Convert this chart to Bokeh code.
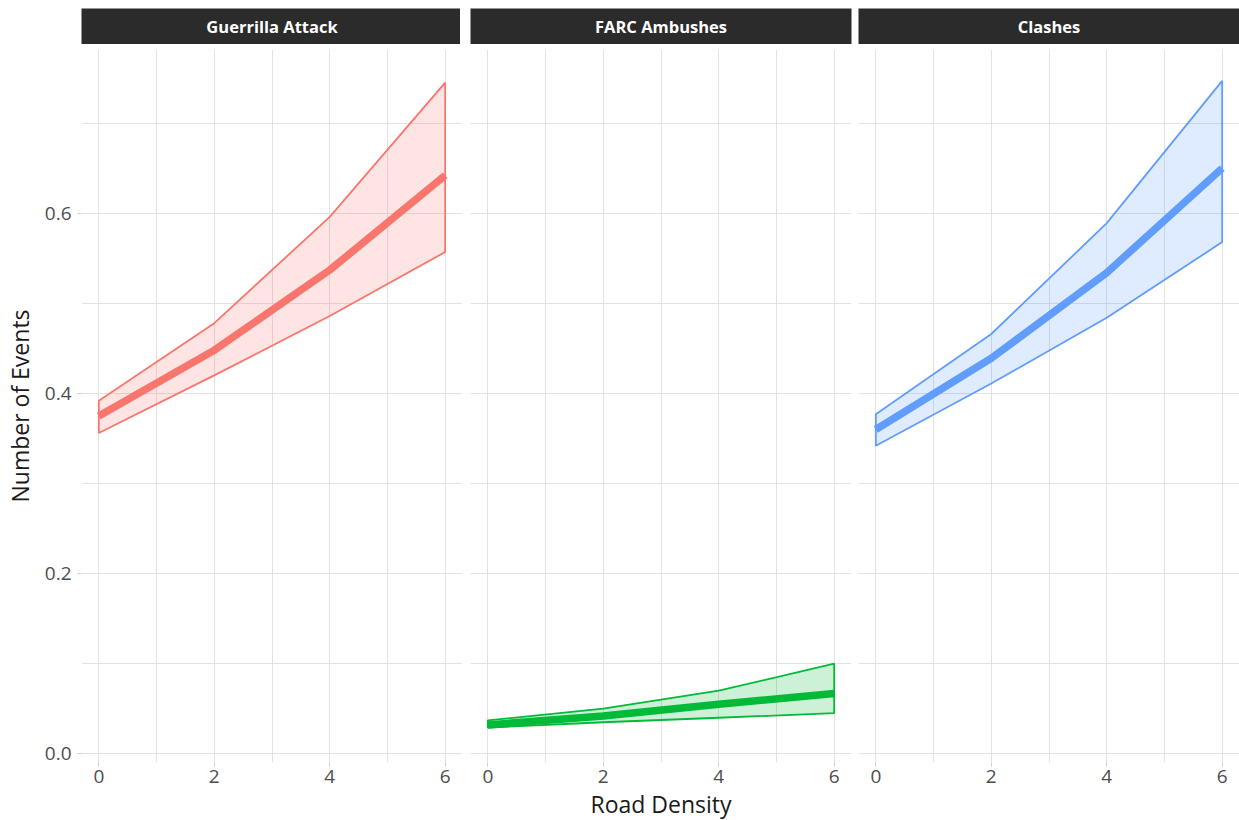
from bokeh.plotting import figure
from bokeh.layouts import row, column
from bokeh.models import Range1d, FixedTicker, CustomJSTickFormatter
from bokeh.embed import file_html
from bokeh.resources import INLINE
from bokeh.core.properties import value

# ---- data ----
road_density = [0, 2, 4, 6]
panels = ["Guerrilla Attack", "FARC Ambushes", "Clashes"]
colors = ["#F8766D", "#00BA38", "#619CFF"]

guerrilla_mean = [0.375, 0.448, 0.537, 0.642]
guerrilla_lower = [0.356, 0.420, 0.486, 0.557]
guerrilla_upper = [0.392, 0.478, 0.596, 0.745]

farc_mean = [0.032, 0.042, 0.055, 0.067]
farc_lower = [0.029, 0.035, 0.040, 0.045]
farc_upper = [0.037, 0.050, 0.070, 0.100]

clashes_mean = [0.360, 0.439, 0.534, 0.650]
clashes_lower = [0.342, 0.411, 0.484, 0.568]
clashes_upper = [0.377, 0.466, 0.589, 0.747]

x_ticks = [0, 2, 4, 6]
x_minor = [1, 3, 5]
y_ticks = [0.0, 0.2, 0.4, 0.6]
y_minor = [0.1, 0.3, 0.5, 0.7]

series = [
    (guerrilla_mean, guerrilla_lower, guerrilla_upper),
    (farc_mean, farc_lower, farc_upper),
    (clashes_mean, clashes_lower, clashes_upper),
]

FONT = "Open Sans"
GRID = "#e2e2e2"
borders = [(75, 4), (4, 4), (3, 0)]
FW = 381

cols = []
for i, (name, col, (mean, lo, up)) in enumerate(zip(panels, colors, series)):
    bl, br = borders[i]
    # facet strip
    s = figure(frame_width=FW, frame_height=36, x_range=Range1d(0, 1), y_range=Range1d(0, 1),
               output_backend="svg", toolbar_location=None,
               min_border_left=bl, min_border_right=br, min_border_top=8, min_border_bottom=0,
               background_fill_color="#2b2b2b", border_fill_color="white", outline_line_color=None)
    s.axis.visible = False
    s.grid.visible = False
    s.text(x=[0.5], y=[0.5], text=[name], text_align="center", text_baseline="middle",
           text_color="white", text_font=value(FONT), text_font_style="bold", text_font_size="16.5px")

    # panel
    p = figure(frame_width=FW, frame_height=713,
               x_range=Range1d(-0.3, 6.3), y_range=Range1d(-0.0097, 0.7818),
               output_backend="svg", toolbar_location=None,
               min_border_left=bl, min_border_right=br, min_border_top=5, min_border_bottom=58,
               background_fill_color="white", border_fill_color="white", outline_line_color=None)
    p.xaxis.ticker = FixedTicker(ticks=x_ticks, minor_ticks=x_minor)
    p.yaxis.ticker = FixedTicker(ticks=y_ticks, minor_ticks=y_minor)
    p.yaxis.formatter = CustomJSTickFormatter(code="return tick.toFixed(1);")
    for ax in (p.xaxis, p.yaxis):
        ax.axis_line_color = None
        ax.major_tick_line_color = "#cfcfcf"
        ax.major_tick_out = 4
        ax.major_tick_in = 0
        ax.minor_tick_line_color = None
        ax.major_label_text_font = FONT
        ax.major_label_text_font_size = "19px"
        ax.major_label_text_color = "#4d4d4d"
        ax.axis_label_text_font = FONT
        ax.axis_label_text_font_size = "23px"
        ax.axis_label_text_font_style = "normal"
        ax.axis_label_text_color = "#1a1a1a"
    p.xaxis.major_label_standoff = 3
    p.yaxis.major_label_standoff = 6
    p.xgrid.grid_line_color = GRID
    p.ygrid.grid_line_color = GRID
    p.xgrid.minor_grid_line_color = GRID
    p.ygrid.minor_grid_line_color = GRID

    if i == 0:
        p.yaxis.axis_label = "Number of Events"
        p.yaxis.axis_label_standoff = 6
    else:
        p.yaxis.visible = False
    if i == 1:
        p.xaxis.axis_label = "Road Density"
        p.xaxis.axis_label_standoff = 2

    xs = road_density + road_density[::-1]
    ys = up + lo[::-1]
    p.patch(xs, ys, fill_color=col, fill_alpha=0.2, line_color=col, line_width=1.8)
    p.line(road_density, mean, line_color=col, line_width=7.5)

    cols.append(column(s, p, spacing=0))

layout = row(*cols, spacing=0)
open("out.html", "w").write(file_html(layout, INLINE))
